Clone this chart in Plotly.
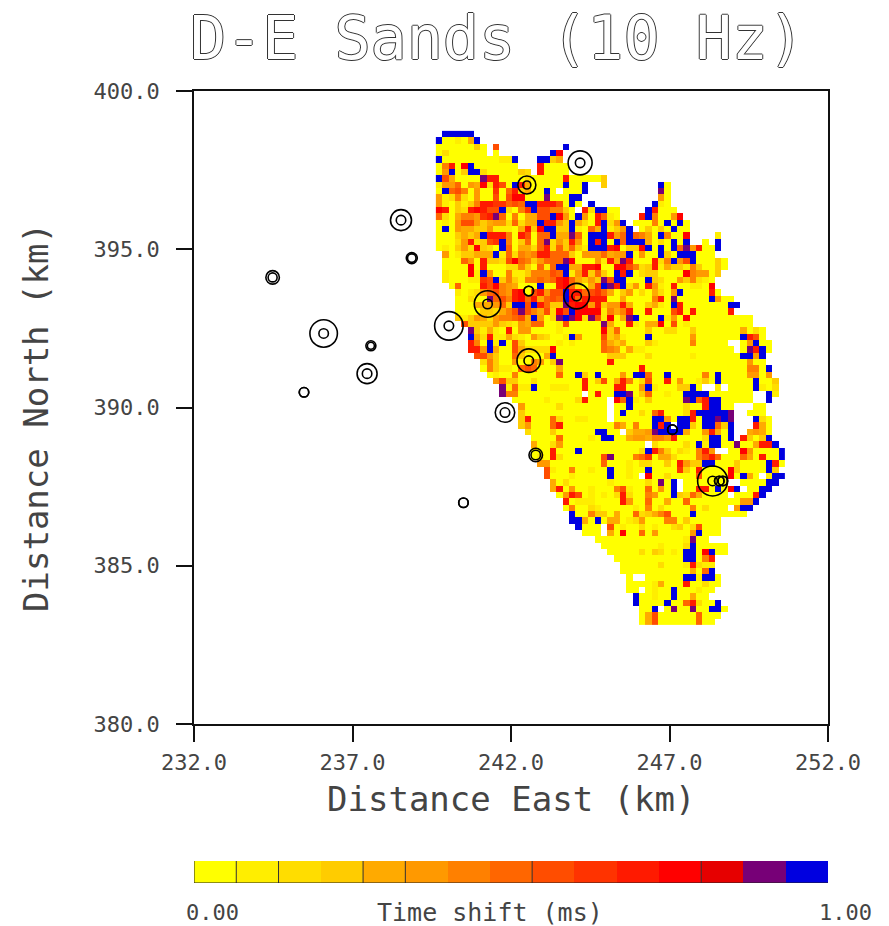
import plotly.graph_objects as go

W, H = 889, 926
PLOT_L, PLOT_R, PLOT_T, PLOT_B = 194, 828, 91, 724
BAR_T, BAR_B = 861, 883

TITLE = "D-E Sands (10 Hz)"
X_TITLE = "Distance East (km)"
Y_TITLE = "Distance North (km)"
BAR_TITLE = "Time shift (ms)"
BAR_LOW = "0.00"
BAR_HIGH = "1.00"
X_TICKS = [232, 237, 242, 247, 252]
Y_TICKS = [380, 385, 390, 395, 400]

# 15 colour classes of the label bar
LEVEL_COLORS = ["#FFFF00", "#FFEE00", "#FFDD00", "#FFCC00", "#FFAA00", "#FF9900", "#FF8000",
                "#FF6600", "#FF4D00", "#FF3300", "#FF1A00", "#FF0000", "#E60000", "#770077", "#0000E0"]
LEVEL_KEYS = "0123456789abcde"
BAR_SEPARATORS = [1, 2, 4, 5, 8, 12]

# one string per map row, north to south; one character per 0.2 km cell (blocks of ten)
CELL_KM = 0.2
FIRST_EAST = 239.73
FIRST_NORTH = 398.64
ROWS = [
    ".eeeee....",
    "e00104e...",
    "00000030.8 .......... e",
    "02000000.0 ........eb",
    "e000000000 11e...ee34",
    "06a0be0000 000...a000 0",
    "05e03ee200 00032.a000 0",
    "e840000daa 0000200000 a000003",
    "1557054b2a 80ea400000 e00e..3... .....e0",
    "0e78605009 07a3400e0. 000e...... .....d0",
    "5126205008 08bb000d00 0ee....... .....50",
    "5103136aa9 9787eeaaa8 0e0.e..... ....e10",
    "ba032aba88 e2069e8866 30.a2ee00. ...ea000..",
    "7204665 9ad 7060448 8eb 50e50a710. ..ae6005b.",
    "0105885345 527244eaa5 3e420ae25e .00060e0e0",
    "0e05443351 1104a3bee3 3e1074e135 e.03030e00",
    "0003434eaa a60a8077e4 4d70eeea57 e7640e600b ....1",
    "00025a2389 e603707d25 3a50eae0e7 eee4020e0e ..0.e",
    "010352b320 e704427a27 3731eeeab0 33be0e0e7d 5a00e",
    ".50133444e 172656aa77 7305557455 e0500e30ee e000",
    ".000750a33 28b7635777 db00051a4d a000a26e58 e00030",
    ".0000b0a00 022630717e e44aab00bb 8623a14331 630030",
    ".1000b1e50 0611366687 e15a3730ea e02330000b 65503",
    ".10001198e 363166767a b74353d8ee 000e320053 6210",
    "..07000a8b 654000e00a b72049edae 250a510a00 110b",
    "...1012578 65ab08a588 eaa7897403 50204205e0 000a0",
    "...00200d7 86ab7a4787 eb7aaaa004 00006a0d00 000e500",
    "...0004445 73ee8ea733 dabb5a355a 4003410ea0 000000ee",
    "...0000332 468d86482b 8ebbbb1646 a00a0008a0 a00000a",
    "...3135425 66784e502d edb2d81b04 de000e150b 0000000000",
    "....833335 3215477001 800000d400 a1044b0801 0000000000",
    ".....d3141 0a05500001 000000b370 0003002200 3000000040 20",
    ".....e42a1 1421053200 1e50008341 000e000000 50000000ea 80",
    ".....a60e1 e083000001 0100007434 0003100000 600000..05 e00",
    ".....aa5e4 00842222b0 0000007650 4110000000 0000000.0d ae0",
    "......8853 00730004e0 0000000333 0002000000 10000000ee 5e",
    ".......263 005006503d 0000000a00 0000000000 0000000005 00",
    ".......063 1107870004 0000000000 00a0000000 0000000006 60e",
    "........01 0060000007 00e30e0005 0ee700e000 0060e00005 505",
    ".........5 8330020000 000a03804a 602800a050 0130e00000 e003",
    ".......... d1711e0011 100a0000aa 005e100033 e0..1.0000 e102",
    ".......... d660000000 000.0a00ee d03700100e eee0000000 ..e1",
    ".......... ..00000100 002a000.b7 e10300000d e7aee00000 ..e",
    ".......... ...5000002 0000000.00 e000000002 00aee00... 00",
    ".......... ...3000000 0000000.0e 00207a0002 aeeeeed..0 00",
    ".......... ...3a00072 0011000.00 0000ee50ee a0eeded... e20",
    ".......... ...350007a 0000000064 0600eae.ee 30ee73e... a40",
    ".......... ....200030 00000ee00. 3445deeee4 005a40e..4 540",
    ".......... .....00007 000010ee00 4554665a00 002ee0e.a3 03e",
    ".......... .....40025 0000000000 000.200002 0e1ee00d00 4aae",
    ".......... .....000a0 00e0000000 002ea63021 06a5..00b5 0000e",
    ".......... .....010a2 0000008d00 0679044200 068a700074 0a00e",
    ".......... ......5500 0000007000 10220030a5 33ee000300 00ea0",
    ".......... .......810 0600100e00 100e000093 0a0000b300 00e3",
    ".......... .......800 0100000e00 10.b002000 080000b0e4 0.1ee",
    ".......... ........40 2000000100 00020d0e.0 000000..00 00ee",
    ".......... ........4a 0500100068 1007050e.0 0aa0e0be.0 0ee",
    ".......... .........0 5a8010102a 2006500e32 740000.000 ae",
    ".......... .......... a01110000a 5007004007 0000000055 e",
    ".......... .......... 0600210000 0106020000 602000.5ee",
    ".......... .......... .e00633040 0723468000 e00000000. ",
    ".......... .......... .ee40e0440 1250006603 00000",
    ".......... .......... ..e000.801 0020100230 28000",
    ".......... .......... ...000.40b 0070500000 5e000",
    ".......... .......... .....00000 0000000001 d00",
    ".......... .......... ......0000 0000010002 e00000",
    ".......... .......... .......000 002032010e e0be00",
    ".......... .......... ........00 000000000e e06a",
    ".......... .......... .........0 0000020001 a211",
    ".......... .......... .........0 0000000000 407e",
    ".......... .......... .......... 0..000000e e1ee0",
    ".......... .......... .......... 000014000a 00200",
    ".......... .......... .......... 00.0100e00 0100",
    ".......... .......... .......... .e00100e00 400",
    ".......... .......... .......... .e0000e007 a200e",
    ".......... .......... .......... ..00e.0d00 d00ee0",
    ".......... .......... .......... ..04800000 07000",
    ".......... .......... .......... ..04800000 0700",
]

# wells: east km, north km, outer ring and inner ring diameters
WELL_EAST = [244.18, 242.50, 238.53, 238.87, 234.48, 236.09, 237.58, 237.46, 235.47, 240.04, 240.50,
             241.26, 242.56, 244.07, 242.56, 241.81, 242.78, 247.09, 248.36, 248.57, 248.68]
WELL_NORTH = [397.73, 397.03, 395.92, 394.72, 394.11, 392.34, 391.95, 391.07, 390.48, 392.58, 386.99,
              393.27, 393.68, 393.52, 391.48, 389.84, 388.50, 389.30, 387.68, 387.68, 387.68]
WELL_OUTER = [24, 18, 21, 11, 13.5, 27.5, 10, 20, 9.5, 28.5, 9.5, 26.5, 9.5, 25.5, 23.5, 19.5, 13.5, 9.5, 30, 9.5, 9.5]
WELL_INNER = [9.5, 8, 9.5, 8.5, 9, 9.5, 7, 9.5, 9.5, 9.5, 9.5, 9.5, 9.5, 9.5, 9.5, 9.5, 9.5, 9.5, 9.5, 9.5, 9.5]

n_levels = len(LEVEL_COLORS)
scale = []
for i, c in enumerate(LEVEL_COLORS):
    scale.append([i / n_levels, c])
    scale.append([(i + 1) / n_levels, c])

clean = [r.replace(" ", "") for r in ROWS]
n_cols = max(len(r) for r in clean)
z = []
for r in clean:
    r = r.ljust(n_cols, ".")
    z.append([None if ch == "." else (LEVEL_KEYS.index(ch) + 0.5) / n_levels for ch in r])

fig = go.Figure()
fig.add_trace(go.Heatmap(z=z, x0=FIRST_EAST, dx=CELL_KM, y0=FIRST_NORTH, dy=-CELL_KM,
                         zmin=0, zmax=1, colorscale=scale, showscale=False, hoverongaps=False))
fig.add_trace(go.Scatter(x=WELL_EAST, y=WELL_NORTH, mode="markers", showlegend=False,
                         marker=dict(symbol="circle-open", size=WELL_OUTER, color="#000", opacity=1,
                                     line=dict(color="#000", width=1.6))))
fig.add_trace(go.Scatter(x=WELL_EAST, y=WELL_NORTH, mode="markers", showlegend=False,
                         marker=dict(symbol="circle-open", size=WELL_INNER, color="#000", opacity=1,
                                     line=dict(color="#000", width=1.6))))
fig.add_trace(go.Heatmap(z=[[(i + 0.5) / n_levels for i in range(n_levels)]],
                         x0=0.5 / n_levels, dx=1 / n_levels, y0=0.5, dy=1,
                         zmin=0, zmax=1, colorscale=scale, showscale=False,
                         xaxis="x2", yaxis="y2"))

MONO = "DejaVu Sans Mono"
TEXT = "#444444"


def paper_note(text, px, py, size, angle=0, color=TEXT, **font_extra):
    return dict(text=text, x=px / W, y=1 - py / H, xref="paper", yref="paper", showarrow=False,
                xanchor="center", yanchor="middle", textangle=angle,
                font=dict(family=MONO, size=size, color=color, **font_extra))


notes = [
    paper_note(TITLE, 497, 38, 60, color="white",
               shadow="1px 0 0 #333, -1px 0 0 #333, 0 1px 0 #333, 0 -1px 0 #333"),
    paper_note(X_TITLE, 511, 799, 34),
    paper_note(Y_TITLE, 36, 418, 34, angle=-90),
    paper_note(BAR_LOW, 212, 912, 22),
    paper_note(BAR_TITLE, 490, 912, 25),
    paper_note(BAR_HIGH, 845, 912, 22),
]

shapes = [dict(type="line", xref="x2", yref="y2", x0=k / n_levels, x1=k / n_levels, y0=0, y1=1,
               line=dict(color="#333", width=1)) for k in BAR_SEPARATORS]
shapes.append(dict(type="line", xref="x2", yref="y2", x0=0, x1=1, y0=0, y1=0, line=dict(color="#222", width=1.2)))
shapes.append(dict(type="line", xref="x2", yref="y2", x0=0, x1=0, y0=0, y1=1, line=dict(color="#222", width=1)))

axis_common = dict(showgrid=False, zeroline=False, showline=True, mirror=True, linecolor="#111", linewidth=1.5,
                   ticks="outside", ticklen=16, tickwidth=1.5, tickcolor="#111", tickformat=".1f",
                   tickfont=dict(family=MONO, size=22, color=TEXT))

fig.update_layout(
    width=W, height=H, autosize=False, margin=dict(l=0, r=0, t=0, b=0, autoexpand=False),
    paper_bgcolor="white", plot_bgcolor="white", showlegend=False,
    xaxis=dict(domain=[PLOT_L / W, PLOT_R / W], range=[232, 252], tickvals=X_TICKS, anchor="y",
               ticklabelstandoff=2, **axis_common),
    yaxis=dict(domain=[1 - PLOT_B / H, 1 - PLOT_T / H], range=[380, 400], tickvals=Y_TICKS, anchor="x",
               ticklabelstandoff=12, **axis_common),
    xaxis2=dict(domain=[PLOT_L / W, PLOT_R / W], range=[0, 1], anchor="y2", visible=False),
    yaxis2=dict(domain=[1 - BAR_B / H, 1 - BAR_T / H], range=[0, 1], anchor="x2", visible=False),
    annotations=notes, shapes=shapes,
)

fig.write_html("out.html", post_script="document.body.style.margin='0';",
               config=dict(displayModeBar=False))
